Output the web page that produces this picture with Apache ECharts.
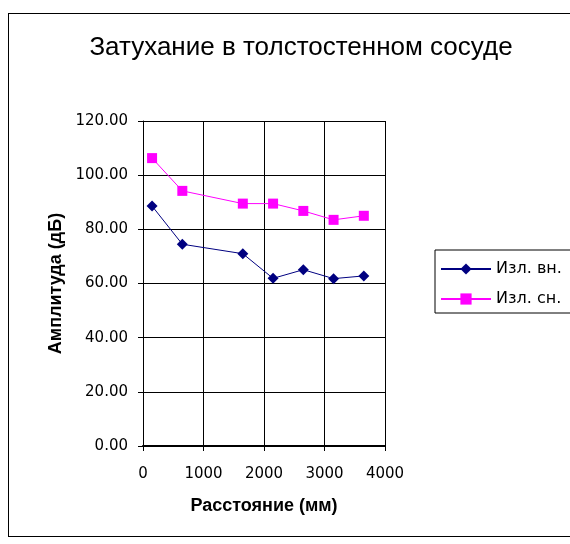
<!DOCTYPE html>
<html>
<head>
<meta charset="utf-8">
<script src="https://cdn.jsdelivr.net/npm/echarts@6/dist/echarts.min.js"></script>
<style>
  html, body { margin: 0; padding: 0; background: #fff; }
  #frame { position: absolute; left: 8px; top: 13px; width: 580px; height: 524px; border: 1px solid #000; box-sizing: border-box; }
  #chart { width: 570px; height: 544px; }
</style>
</head>
<body>
<div id="frame"></div>
<div id="chart"></div>
<script>
// distances (mm) and amplitudes (dB)
const distance = [150, 650, 1650, 2150, 2650, 3150, 3650];
const ampInner = [88.6, 74.5, 71.0, 61.9, 65.1, 61.8, 62.8];
const ampOuter = [106.3, 94.2, 89.5, 89.5, 86.8, 83.5, 85.0];
const seriesNames = ['Изл. вн.', 'Изл. сн.'];

const font = 'Liberation Sans, Arial, sans-serif';
const tickFont = 'DejaVu Sans, sans-serif';
let chart = echarts.init(document.getElementById('chart'));

function pairs(xs, ys) {
  return xs.map((x, i) => [x, ys[i]]);
}

chart.setOption({
  animation: false,
  title: {
    text: 'Затухание в толстостенном сосуде',
    left: 296, top: 30, textAlign: 'center',
    textStyle: { fontFamily: font, fontSize: 26, fontWeight: 'normal', color: '#000' }
  },
  legend: {
    orient: 'vertical',
    left: 435, top: 250,
    padding: [11, 30, 6, 5],
    itemGap: 14,
    itemWidth: 50, itemHeight: 14,
    borderColor: '#000', borderWidth: 1,
    backgroundColor: '#fff',
    textStyle: { fontFamily: tickFont, fontSize: 16, color: '#000' },
    data: seriesNames
  },
  grid: { left: 143, right: 185, top: 121, bottom: 98 },
  xAxis: {
    type: 'value',
    min: 0, max: 4000, interval: 1000,
    name: 'Расстояние (мм)',
    nameLocation: 'middle', nameGap: 51,
    nameTextStyle: { fontFamily: font, fontSize: 18, fontWeight: 'bold', color: '#000' },
    axisLine: { lineStyle: { color: '#000', width: 2 } },
    axisTick: { show: true, length: 5, lineStyle: { color: '#000' } },
    axisLabel: { fontFamily: tickFont, fontSize: 15, color: '#000', margin: 21,
      formatter: v => String(v) },
    splitLine: { show: true, lineStyle: { color: '#000', width: 1 } }
  },
  yAxis: {
    type: 'value',
    min: 0, max: 120, interval: 20,
    name: 'Амплитуда (дБ)',
    nameLocation: 'middle', nameGap: 78,
    nameTextStyle: { fontFamily: font, fontSize: 18, fontWeight: 'bold', color: '#000' },
    axisLine: { show: true, lineStyle: { color: '#000', width: 1 } },
    axisTick: { show: true, length: 5, lineStyle: { color: '#000' } },
    axisLabel: { fontFamily: tickFont, fontSize: 15, color: '#000', margin: 15,
      formatter: v => v.toFixed(2) },
    splitLine: { show: true, lineStyle: { color: '#000', width: 1 } }
  },
  series: [
    {
      name: seriesNames[0], type: 'line',
      data: pairs(distance, ampInner),
      symbol: 'diamond', symbolSize: 11,
      lineStyle: { color: '#000080', width: 1 },
      itemStyle: { color: '#000080' }
    },
    {
      name: seriesNames[1], type: 'line',
      data: pairs(distance, ampOuter),
      symbol: 'rect', symbolSize: 10,
      lineStyle: { color: '#ff00ff', width: 1 },
      itemStyle: { color: '#ff00ff' }
    }
  ]
});
</script>
</body>
</html>
